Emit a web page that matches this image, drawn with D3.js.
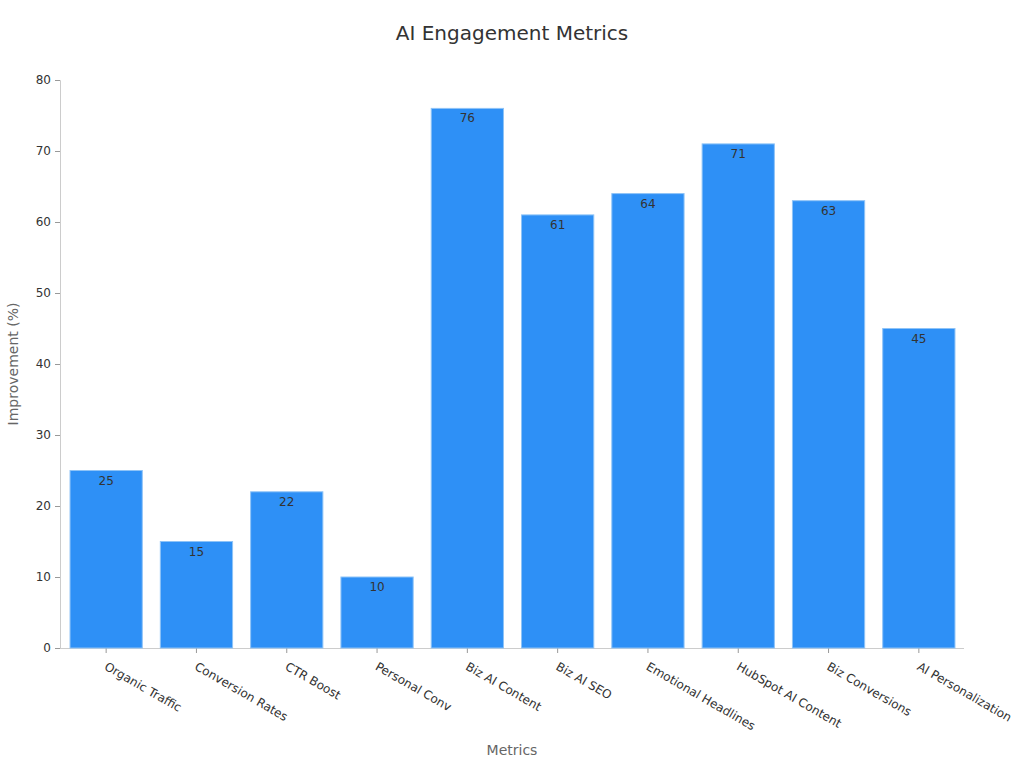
<!DOCTYPE html>
<html><head><meta charset="utf-8">
<script src="https://cdn.jsdelivr.net/npm/d3@7"></script>
<style>body{margin:0;background:#fff;font-family:"DejaVu Sans",sans-serif;}</style>
</head><body><svg id="c" width="1024" height="768"></svg>
<script>
const categories = ["Organic Traffic","Conversion Rates","CTR Boost","Personal Conv","Biz AI Content","Biz AI SEO","Emotional Headlines","HubSpot AI Content","Biz Conversions","AI Personalization"];
const values = [25,15,22,10,76,61,64,71,63,45];
const yTicks = [0,10,20,30,40,50,60,70,80];

const svg = d3.select("#c");
const m = {l:61, r:60, t:80, b:120};
const W = 1024, H = 768;
const x = d3.scaleBand().domain(categories).range([m.l, W - m.r]).paddingInner(0.2).paddingOuter(0.1);
const y = d3.scaleLinear().domain([0,80]).range([H - m.b, m.t]);

svg.append("text").attr("x",512).attr("y",40).attr("text-anchor","middle")
  .attr("font-size",20).attr("fill","#333").text("AI Engagement Metrics");

const ya = svg.append("g").attr("transform",`translate(60,0)`)
  .call(d3.axisLeft(y).tickValues(yTicks).tickSize(5).tickPadding(4));
ya.select(".domain").attr("stroke","#ccc");
ya.selectAll(".tick line").attr("stroke","#999");
ya.selectAll(".tick text").attr("font-size",12).attr("fill","#333").attr("font-family","DejaVu Sans");

const xa = svg.append("g").attr("transform",`translate(0,${H - m.b})`)
  .call(d3.axisBottom(x).tickSize(5).tickSizeOuter(0).tickPadding(8));
xa.select(".domain").attr("stroke","#ccc").attr("d",`M60,0.5H964`);
xa.selectAll(".tick line").attr("stroke","#999");
xa.selectAll(".tick text").attr("font-size",12).attr("fill","#333").attr("font-family","DejaVu Sans")
  .attr("text-anchor","start").attr("dy","0.35em")
  .attr("transform","translate(6,6) rotate(30)");

svg.append("g").selectAll("rect").data(values).join("rect")
  .attr("x",(d,i)=>x(categories[i])).attr("width",x.bandwidth())
  .attr("y",d=>y(d)).attr("height",d=>y(0)-y(d))
  .attr("fill","#2e90f6").attr("stroke","#8ec3f7").attr("stroke-width",1);

svg.append("g").selectAll("text").data(values).join("text")
  .attr("x",(d,i)=>x(categories[i])+x.bandwidth()/2).attr("y",d=>y(d)+14)
  .attr("text-anchor","middle").attr("font-size",12).attr("fill","#333").text(d=>d);

svg.append("text").attr("x",512).attr("y",755).attr("text-anchor","middle")
  .attr("font-size",14).attr("fill","#666").text("Metrics");
svg.append("text").attr("transform","translate(18,364) rotate(-90)").attr("text-anchor","middle")
  .attr("font-size",14).attr("fill","#666").text("Improvement (%)");
</script></body></html>
